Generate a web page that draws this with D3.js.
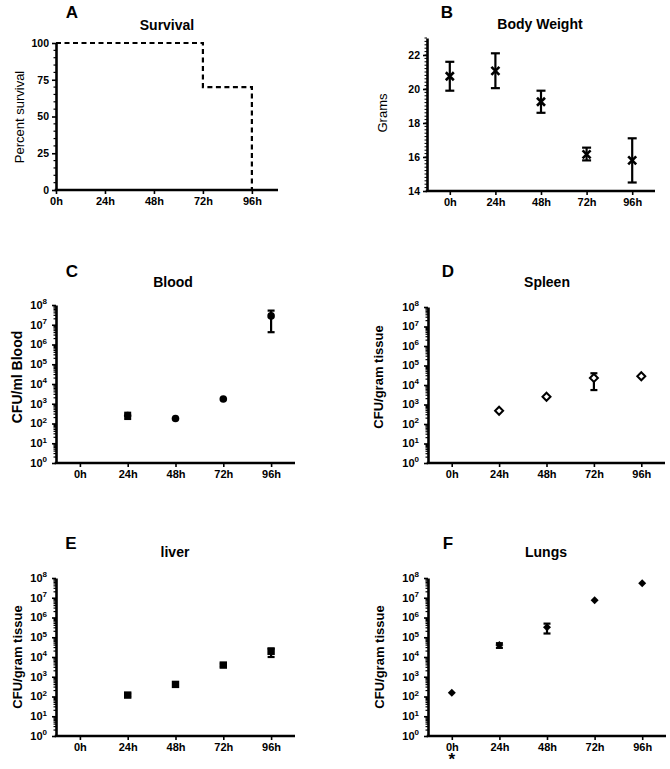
<!DOCTYPE html>
<html><head><meta charset="utf-8">
<script src="https://cdn.jsdelivr.net/npm/d3@7"></script>
<style>body{margin:0;background:#fff}svg{display:block}text{font-family:"Liberation Sans",Arial,sans-serif;fill:#000}</style>
</head><body>
<svg id="c" width="670" height="769"></svg>
<script>
// ---- DATA ----
const timeLabels = ["0h","24h","48h","72h","96h"];
const survivalHours = [0,72,72,96,96];
const survivalPct   = [100,100,70,70,0];
const survivalTicks = [0,25,50,75,100];

const weightMean = [20.75,21.07,19.25,16.15,15.8];
const weightLow  = [19.9,20.05,18.6,15.8,14.5];
const weightHigh = [21.6,22.1,19.9,16.55,17.1];
const weightTicks = [14,16,18,20,22];

const bloodTimes = ["24h","48h","72h","96h"];
const bloodMean = [250,180,1750,2.8e7];
const bloodLow  = [170,null,null,4.2e6];
const bloodHigh = [350,null,null,5.2e7];

const spleenTimes = ["24h","48h","72h","96h"];
const spleenMean = [480,2500,23000,28000];
const spleenLow  = [null,null,5500,null];
const spleenHigh = [null,null,40000,null];

const liverTimes = ["24h","48h","72h","96h"];
const liverMean = [118,410,3900,19500];
const liverLow  = [100,null,3300,10000];
const liverHigh = [140,null,4600,27000];

const lungTimes = ["0h","24h","48h","72h","96h"];
const lungMean = [155,40000,320000,7.4e6,5.5e7];
const lungLow  = [null,29000,155000,null,null];
const lungHigh = [null,50000,490000,null,null];

const logTicks = [1,10,100,1e3,1e4,1e5,1e6,1e7,1e8];

// ---- DRAW ----
const svg = d3.select("#c");
const AX = 2.6;

function axisStyle(g){
  g.select(".domain").attr("stroke","#000").attr("stroke-width",AX);
  g.selectAll(".tick line").attr("stroke","#000").attr("stroke-width",1.6);
  g.selectAll(".tick text").attr("font-size","10.5px").attr("font-weight","bold");
}

function header(p){
  svg.append("text").attr("x",p.letterX).attr("y",p.letterY).attr("font-size","17px").attr("font-weight","bold").attr("text-anchor","middle").text(p.letter);
  svg.append("text").attr("x",p.titleX).attr("y",p.titleY).attr("font-size","14px").attr("font-weight","bold").attr("text-anchor","middle").text(p.title);
  svg.append("text").attr("transform",`translate(${p.labX},${p.labY}) rotate(-90)`).attr("font-size",p.labSize+"px")
    .attr("font-weight",p.labBold?"bold":"normal").attr("text-anchor","middle").text(p.ylabel);
}

function catX(p){
  return d3.scalePoint().domain(timeLabels).range([p.x0,p.x1]).padding(0.5);
}

function xAxisCat(p,x){
  const g = svg.append("g").attr("transform",`translate(0,${p.yB})`).call(d3.axisBottom(x).tickSizeOuter(0).tickSize(4).tickPadding(3));
  axisStyle(g);
  g.select(".domain").attr("d",`M${p.x0 - AX/2},0H${p.x1}`);
  g.selectAll(".tick text").attr("font-size","11px");
}

function logPanel(p, times, mean, low, high, marker){
  header(p);
  const x = catX(p);
  const y = d3.scaleLog().domain([1,1e8]).range([p.yB,p.yT]);
  const minors=[];
  for(let e=0;e<8;e++) for(let m=2;m<10;m++) minors.push(m*Math.pow(10,e));
  svg.append("g").selectAll("line").data(minors).join("line")
    .attr("x1",p.x0-2.5).attr("x2",p.x0).attr("y1",d=>y(d)).attr("y2",d=>y(d)).attr("stroke","#000").attr("stroke-width",1.2);
  const gy = svg.append("g").attr("transform",`translate(${p.x0},0)`).call(d3.axisLeft(y).tickValues(logTicks).tickSize(4).tickSizeOuter(0).tickFormat(()=>""));
  axisStyle(gy);
  gy.selectAll(".tick text").each(function(d){
    const t=d3.select(this);
    const e=Math.round(Math.log10(d));
    t.append("tspan").text("10").attr("font-size","11px");
    t.append("tspan").text(e).attr("font-size","8px").attr("dy","-4.5");
    t.attr("dx","-2");
  });
  xAxisCat(p,x);
  const pts = times.map((t,i)=>({t,m:mean[i],lo:low[i],hi:high[i]}));
  const eb = svg.append("g").attr("stroke","#000").attr("stroke-width",2.2).attr("fill","none");
  pts.filter(d=>d.lo!=null).forEach(d=>{
    const cx=x(d.t);
    eb.append("line").attr("x1",cx).attr("x2",cx).attr("y1",y(d.lo)).attr("y2",y(d.hi));
    eb.append("line").attr("x1",cx-3.5).attr("x2",cx+3.5).attr("y1",y(d.lo)).attr("y2",y(d.lo));
    eb.append("line").attr("x1",cx-3.5).attr("x2",cx+3.5).attr("y1",y(d.hi)).attr("y2",y(d.hi));
  });
  const mg = svg.append("g");
  pts.forEach(d=>{
    const cx=x(d.t), cy=y(d.m);
    if(marker==="circle") mg.append("circle").attr("cx",cx).attr("cy",cy).attr("r",3.8).attr("fill","#000");
    else if(marker==="square") mg.append("rect").attr("x",cx-3.7).attr("y",cy-3.7).attr("width",7.4).attr("height",7.4).attr("fill","#000");
    else if(marker==="openDiamond") mg.append("path").attr("d",`M${cx},${cy-4}L${cx+4},${cy}L${cx},${cy+4}L${cx-4},${cy}Z`).attr("fill","#fff").attr("stroke","#000").attr("stroke-width",2);
    else if(marker==="diamond") mg.append("path").attr("d",`M${cx},${cy-4}L${cx+4},${cy}L${cx},${cy+4}L${cx-4},${cy}Z`).attr("fill","#000");
  });
  return x;
}

// Panel A
(function(){
  const p={letter:"A",letterX:72,letterY:18,title:"Survival",titleX:167,titleY:30,ylabel:"Percent survival",labX:24,labY:117,labBold:false,labSize:13,x0:56,x1:278,yT:43,yB:190};
  header(p);
  const x=d3.scaleLinear().domain([0,108.8]).range([p.x0,p.x1]);
  const y=d3.scaleLinear().domain([0,100]).range([p.yB,p.yT]);
  svg.append("g").selectAll("line").data(d3.range(5,100,5).filter(v=>v%25)).join("line")
    .attr("x1",p.x0-2.5).attr("x2",p.x0).attr("y1",d=>y(d)).attr("y2",d=>y(d)).attr("stroke","#000").attr("stroke-width",1.2);
  const gy=svg.append("g").attr("transform",`translate(${p.x0},0)`).call(d3.axisLeft(y).tickValues(survivalTicks).tickSize(4).tickSizeOuter(0));
  axisStyle(gy);
  const gx=svg.append("g").attr("transform",`translate(0,${p.yB})`).call(d3.axisBottom(x).tickValues([0,24,48,72,96]).tickFormat(d=>d+"h").tickSize(4).tickSizeOuter(0).tickPadding(3));
  axisStyle(gx);
  gx.select(".domain").attr("d",`M${p.x0-AX/2},0H${p.x1}`);
  gx.selectAll(".tick text").attr("font-size","11px");
  const line=d3.line().x(d=>x(d[0])).y(d=>y(d[1]));
  svg.append("path").attr("d",line(survivalHours.map((h,i)=>[h,survivalPct[i]]))).attr("fill","none").attr("stroke","#000").attr("stroke-width",2.2).attr("stroke-dasharray","5,3.5");
})();

// Panel B
(function(){
  const p={letter:"B",letterX:447,letterY:18,title:"Body Weight",titleX:540,titleY:29,ylabel:"Grams",labX:387,labY:113,labBold:false,labSize:13,x0:427,x1:655,yT:38,yB:191};
  header(p);
  const x=catX(p);
  const y=d3.scaleLinear().domain([14,23]).range([p.yB,p.yT]);
  svg.append("g").selectAll("line").data(d3.range(14.2,23.01,0.2)).join("line")
    .attr("x1",p.x0-2.5).attr("x2",p.x0).attr("y1",d=>y(d)).attr("y2",d=>y(d)).attr("stroke","#000").attr("stroke-width",1);
  const gy=svg.append("g").attr("transform",`translate(${p.x0},0)`).call(d3.axisLeft(y).tickValues(weightTicks).tickSize(4).tickSizeOuter(0));
  axisStyle(gy);
  xAxisCat(p,x);
  const g=svg.append("g").attr("stroke","#000").attr("stroke-width",2.2).attr("fill","none");
  timeLabels.forEach((t,i)=>{
    const cx=x(t);
    g.append("line").attr("x1",cx).attr("x2",cx).attr("y1",y(weightLow[i])).attr("y2",y(weightHigh[i]));
    g.append("line").attr("x1",cx-4.5).attr("x2",cx+4.5).attr("y1",y(weightLow[i])).attr("y2",y(weightLow[i]));
    g.append("line").attr("x1",cx-4.5).attr("x2",cx+4.5).attr("y1",y(weightHigh[i])).attr("y2",y(weightHigh[i]));
    const cy=y(weightMean[i]), s=4;
    g.append("path").attr("d",`M${cx-s},${cy-s}L${cx+s},${cy+s}M${cx-s},${cy+s}L${cx+s},${cy-s}`).attr("stroke-width",2.6);
  });
})();

logPanel({letter:"C",letterX:72,letterY:277,title:"Blood",titleX:173,titleY:287,ylabel:"CFU/ml Blood",labX:22,labY:377,labBold:true,labSize:14,x0:56,x1:295,yT:305,yB:463},bloodTimes,bloodMean,bloodLow,bloodHigh,"circle");
logPanel({letter:"D",letterX:448,letterY:277,title:"Spleen",titleX:547,titleY:287,ylabel:"CFU/gram tissue",labX:383,labY:377,labBold:true,labSize:13,x0:428,x1:665,yT:307,yB:463},spleenTimes,spleenMean,spleenLow,spleenHigh,"openDiamond");
logPanel({letter:"E",letterX:71,letterY:549,title:"liver",titleX:175,titleY:557,ylabel:"CFU/gram tissue",labX:22,labY:657,labBold:true,labSize:13,x0:56,x1:295,yT:578,yB:736},liverTimes,liverMean,liverLow,liverHigh,"square");
const xF = logPanel({letter:"F",letterX:448,letterY:549,title:"Lungs",titleX:546,titleY:557,ylabel:"CFU/gram tissue",labX:384,labY:657,labBold:true,labSize:13,x0:428,x1:666,yT:578,yB:736},lungTimes,lungMean,lungLow,lungHigh,"diamond");
svg.append("text").attr("x",xF("0h")).attr("y",765).attr("text-anchor","middle").attr("font-size","17px").attr("font-weight","bold").text("*");
</script>
</body></html>
